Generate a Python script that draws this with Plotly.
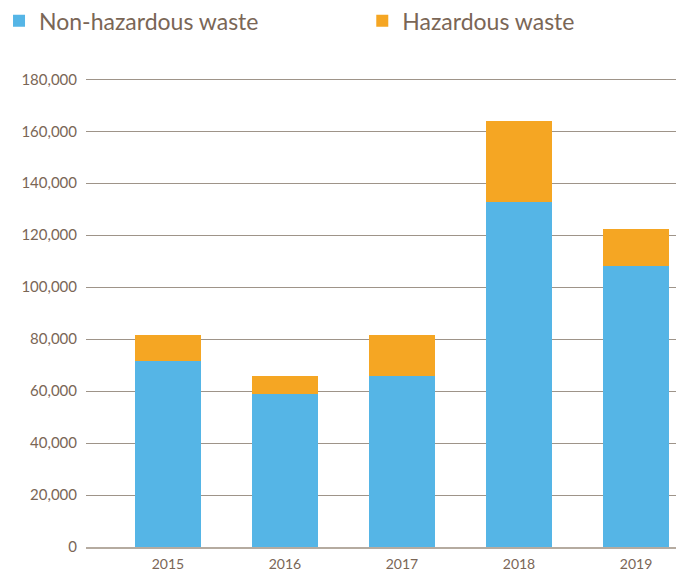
import plotly.graph_objects as go

years = ["2015", "2016", "2017", "2018", "2019"]
non_hazardous = [71500, 58900, 65800, 132800, 108200]
hazardous = [10000, 6800, 15700, 31100, 14100]

text_color = "#7a6656"
font_name = "Lato"

fig = go.Figure()
fig.add_trace(go.Bar(x=years, y=non_hazardous, name="Non-hazardous waste",
                     marker=dict(color="#55b5e6", line=dict(width=0)), width=0.57,
                     legend="legend"))
fig.add_trace(go.Bar(x=years, y=hazardous, name="Hazardous waste",
                     marker=dict(color="#f5a623", line=dict(width=0)), width=0.57,
                     legend="legend2"))

# the page body adds an 8px margin, so the layout is shifted back by 8px
legend_style = dict(orientation="h", xref="paper", yref="paper",
                    yanchor="middle", xanchor="left", y=1.122,
                    font=dict(size=23, color=text_color),
                    itemclick=False, bgcolor="rgba(0,0,0,0)")

fig.update_layout(
    barmode="stack",
    showlegend=True,
    width=684, height=573,
    margin=dict(l=78, r=8, t=70, b=34, autoexpand=False),
    plot_bgcolor="white", paper_bgcolor="white",
    font=dict(family=font_name, color=text_color),
    legend=dict(legend_style, x=-0.1304, indentation=-9),
    legend2=dict(legend_style, x=0.462),
    xaxis=dict(range=[-0.7, 4.41], showgrid=False, showline=True,
               linecolor="#b5aba0", linewidth=2, ticks="",
               tickfont=dict(size=14, color=text_color), ticklabelstandoff=3),
    yaxis=dict(range=[0, 180500], dtick=20000, tickformat=",",
               showgrid=True, gridcolor="#9e9489", gridwidth=1,
               zeroline=False, showline=False, ticks="",
               tickfont=dict(size=15, color=text_color), ticklabelstandoff=8),
)

fig.write_html("out.html")
